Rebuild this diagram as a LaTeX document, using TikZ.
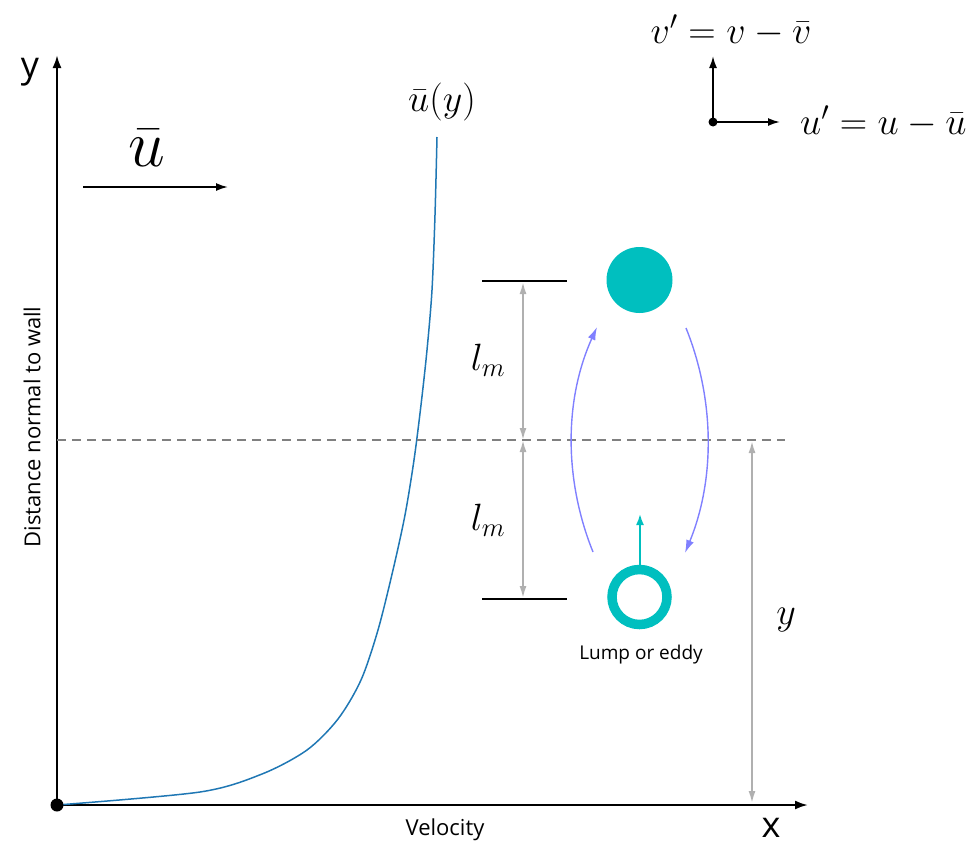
\RequirePackage{fix-cm}
\documentclass[tikz,border=0pt]{standalone}
\usepackage{fontspec}
\setmainfont{Open Sans}
\usetikzlibrary{arrows.meta}
\definecolor{teal1}{RGB}{0,191,191}
\definecolor{arcblue}{RGB}{128,128,255}
\definecolor{curveblue}{RGB}{31,119,180}
\definecolor{lgray}{RGB}{176,176,176}
\definecolor{dgray}{RGB}{128,128,128}
\begin{document}
\begin{tikzpicture}[x=1pt,y=-1pt,
  axis/.style={line width=2.2pt,-{Latex[length=13pt,width=9pt]}},
  smallaxis/.style={line width=1.8pt,-{Latex[length=12pt,width=8pt]}},
  grayarr/.style={lgray,line width=1.8pt,{Latex[length=12pt,width=7pt]}-{Latex[length=12pt,width=7pt]}},
  arcarr/.style={arcblue,line width=1.4pt,-{Latex[length=13pt,width=8pt]}},
  bar/.style={line width=1.5pt},
  sanslab/.style={font=\fontsize{22}{26}\selectfont},
  mathlab/.style={font=\fontsize{38}{42}\selectfont,inner sep=0pt}]
\useasboundingbox (0,0) rectangle (969,846);
% main axes
\coordinate (O) at (57,805);
\coordinate (ytop) at (57,55);
\coordinate (xend) at (808,805);
\draw[axis] (O) -- (ytop);
\draw[axis] (O) -- (xend);
% velocity profile
\draw[curveblue,line width=1.5pt] plot[smooth,tension=0.5] coordinates {
 (57,805) (200,792) (262,774) (307,750) (338,719) (361,680) (378,630) (393,570) (405,515) (414,460) (421,405) (427,350) (432,290) (435,215) (437,137)};
\fill (O) circle (6.5);
\node[font=\fontsize{36}{40}\selectfont] (ylab) at (30,72) {y};
\node[font=\fontsize{36}{40}\selectfont] (xlab) at (771,828) {x};
\node[sanslab] (vel) at (445,830) {Velocity};
\node[sanslab,rotate=90] (dist) at (32,427) {Distance normal to wall};
% mean flow arrow
\coordinate (ua) at (83,187);
\coordinate (ub) at (228,187);
\draw[line width=1.8pt,-{Latex[length=12pt,width=8pt]}] (ua) -- (ub);
\node[font=\fontsize{66}{70}\selectfont,inner sep=0pt] (ubar) at (147,148) {$\bar{u}$};
\node[mathlab] (ulab) at (442,102) {$\bar{u}(y)$};
% dashed reference
\coordinate (da) at (57,440);
\coordinate (db) at (785,440);
\draw[dgray,line width=1.4pt,dash pattern=on 9pt off 6pt] (da) -- (db);
% mixing length bars
\coordinate (b1a) at (482,281); \coordinate (b1b) at (567,281);
\coordinate (b2a) at (482,599); \coordinate (b2b) at (567,599);
\draw[bar] (b1a) -- (b1b);
\draw[bar] (b2a) -- (b2b);
\coordinate (g1) at (523,282); \coordinate (g2) at (523,440); \coordinate (g3) at (523,598);
\draw[grayarr] (g1) -- (g2);
\draw[grayarr] (g2) -- (g3);
\node[mathlab] (lm1) at (488,360) {$l_m$};
\node[mathlab] (lm2) at (488,520) {$l_m$};
% y distance
\coordinate (y1) at (752,441); \coordinate (y2) at (752,803);
\draw[grayarr] (y1) -- (y2);
\node[mathlab] (ylab2) at (786,620) {$y$};
% lumps
\fill[teal1] (639.5,280) circle (33);
\draw[teal1,line width=9.5pt] (639.5,597) circle (27.5);
\coordinate (ta) at (640,566); \coordinate (tb) at (640,514);
\draw[teal1,line width=1.8pt,-{Latex[length=11pt,width=8pt]}] (ta) -- (tb);
\node[font=\fontsize{19}{22}\selectfont] (lump) at (641,655) {Lump or eddy};
% exchange arcs
\coordinate (la) at (593,552); \coordinate (lb) at (597,327);
\coordinate (ra) at (686,328); \coordinate (rb) at (685,553);
\draw[arcarr] (la) .. controls (564,480) and (564,400) .. (lb);
\draw[arcarr] (ra) .. controls (715,400) and (715,480) .. (rb);
% fluctuation axes
\coordinate (fo) at (713,122);
\coordinate (fv) at (713,56);
\coordinate (fu) at (780,122);
\draw[smallaxis] (fo) -- (fv);
\draw[smallaxis] (fo) -- (fu);
\fill (fo) circle (4.5);
\node[mathlab] (vlab) at (731,31) {$v'=v-\bar{v}$};
\node[mathlab,anchor=west] (ulab2) at (800,122) {$u'=u-\bar{u}$};
\end{tikzpicture}
\end{document}
